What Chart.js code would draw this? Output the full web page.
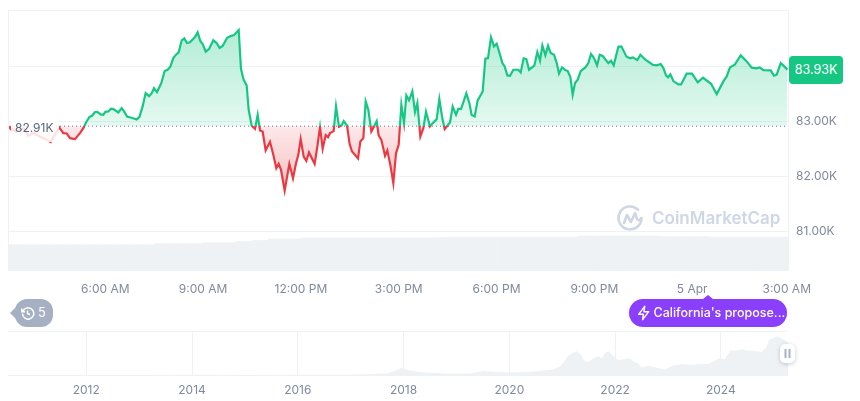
<!DOCTYPE html>
<html lang="en">
<head>
    <meta charset="UTF-8">
    <title>Bitcoin price chart</title>
    <script src="https://cdn.jsdelivr.net/npm/chart.js"></script>
    <style>
        body { margin: 0; background: #fff; font-family: Inter, sans-serif; }
        #page { position: relative; width: 860px; height: 401px; overflow: hidden; }
        canvas { position: absolute; left: 0; }
        #page > div { position: absolute; box-sizing: border-box; }
        #openLabel { left: 11px; top: 114px; width: 48px; height: 28px; line-height: 28px; padding-left: 4px; font-size: 12px; color: #58667e; background: rgba(255,255,255,0.84); }
        #lastLabel { left: 789px; top: 56px; width: 54px; height: 28px; line-height: 28px; text-align: center; font-size: 12.5px; color: #fff; background: #16c784; border-radius: 4px; }
        #history { left: 15px; top: 299px; width: 38px; height: 28px; line-height: 28px; padding-left: 23px; font-size: 12.5px; color: #fff; background: #a6b0c3; border-radius: 12px; }
        #history:before { content: ""; position: absolute; left: -5px; top: 8px; border: 6px solid transparent; border-left: 0; border-right: 6px solid #a6b0c3; }
        #history svg { position: absolute; left: 5px; top: 7px; }
        #news { left: 629px; top: 299px; width: 158px; height: 28px; line-height: 28px; padding-left: 24.5px; font-size: 12.5px; font-weight: 500; color: #fff; background: #8a3ffc; border-radius: 14px; white-space: nowrap; }
        #news:before { content: ""; position: absolute; left: 74px; top: -4px; border: 5px solid transparent; border-top: 0; border-bottom: 4px solid #8a3ffc; }
        #news svg { position: absolute; left: 7px; top: 6px; }
        #brand { left: 617px; top: 204px; width: 160px; height: 28px; line-height: 28px; padding-left: 35px; font-size: 17px; font-weight: 600; color: #cfd6e4; }
        #brand svg { position: absolute; left: 0; top: 0; }
        #handle { left: 780px; top: 344px; width: 15px; height: 19px; background: #fff; border-radius: 5px; box-shadow: 0 1px 4px rgba(88,102,126,0.35); }
        #handle svg { position: absolute; left: 4px; top: 5px; }
    </style>
</head>
<body>
<div id="page">
    <canvas id="mainChart" width="860" height="300" style="top:0"></canvas>
    <canvas id="navChart" width="860" height="76" style="top:325px"></canvas>

    <div id="openLabel">82.91K</div>
    <div id="lastLabel">83.93K</div>
    <div id="history">
        <svg width="15" height="15" viewBox="0 0 24 24" fill="none" stroke="#fff" stroke-width="2.4"><path d="M4 12a9 9 0 1 0 3-6.7L3 9"/><path d="M3 4v5h5"/><path d="M12 7v5l4 2"/></svg>
        5
    </div>
    <div id="news">
        <svg width="16" height="16" viewBox="0 0 24 24" fill="none" stroke="#fff" stroke-width="2.2" stroke-linejoin="round"><path d="M13 2 4 14h7l-1 8 9-12h-7z"/></svg>
        California's propose...
    </div>
    <div id="brand">
        <svg width="27" height="28" viewBox="0 0 27 28" fill="none" stroke="#cfd6e4" stroke-width="2.6" stroke-linecap="round" stroke-linejoin="round"><path d="M24.5 14a11.5 11.5 0 1 1-3.4-8.2"/><path d="M7 19l3-8 4 7 4-9 2 6c1 2 3 1 4.500-1"/></svg>
        CoinMarketCap
    </div>
    <div id="handle">
        <svg width="7" height="9"><rect x="0.5" y="0" width="2" height="9" fill="#a6b0c3"/><rect x="4.500" y="0" width="2" height="9" fill="#a6b0c3"/></svg>
    </div>
</div>

<script>
    // price line, hours counted from midnight 4 Apr
    var priceHours = [3.055,3.096,3.28,3.485,3.638,3.791,4.098,4.323,4.456,4.589,4.712,4.814,4.916,5.07,5.223,5.325,5.407,5.509,5.591,5.683,5.755,5.857,5.939,6,6.092,6.174,6.245,6.399,6.501,6.573,6.675,6.808,6.961,7.043,7.145,7.237,7.339,7.421,7.493,7.585,7.718,7.82,7.912,7.994,8.086,8.168,8.25,8.342,8.423,8.505,8.597,8.751,8.832,8.914,8.986,9.078,9.18,9.313,9.415,9.507,9.599,9.732,9.824,9.947,10.09,10.162,10.243,10.335,10.397,10.489,10.591,10.673,10.744,10.826,10.918,11.051,11.153,11.245,11.317,11.389,11.501,11.644,11.757,11.849,11.92,11.992,12.084,12.166,12.247,12.421,12.503,12.585,12.667,12.759,12.83,12.892,13.004,13.076,13.168,13.25,13.311,13.413,13.495,13.567,13.751,13.822,13.914,13.986,14.067,14.159,14.241,14.323,14.384,14.466,14.579,14.65,14.742,14.834,14.916,14.998,15.08,15.162,15.233,15.315,15.417,15.499,15.571,15.663,15.755,15.836,15.959,16.041,16.164,16.245,16.327,16.409,16.491,16.572,16.654,16.757,16.828,16.91,17.074,17.166,17.237,17.329,17.421,17.575,17.656,17.738,17.83,17.922,18.004,18.106,18.178,18.249,18.331,18.413,18.515,18.669,18.74,18.832,18.914,18.996,19.159,19.251,19.333,19.405,19.497,19.579,19.66,19.763,19.845,19.916,20.008,20.11,20.182,20.264,20.335,20.407,20.489,20.581,20.724,20.816,20.898,20.99,21.082,21.164,21.256,21.429,21.511,21.593,21.736,21.828,21.982,22.094,22.176,22.319,22.411,22.564,22.789,22.912,23.035,23.117,23.198,23.26,23.331,23.423,23.577,23.659,23.832,23.996,24.17,24.333,24.579,24.753,24.957,25.059,25.162,25.305,25.489,25.673,25.826,25.979,26.071,26.184,26.409,26.511,26.593,26.716,26.797,26.92];
    var priceValues = [82.917,82.857,82.814,82.875,82.736,82.784,82.693,82.621,82.754,82.887,82.784,82.778,82.693,82.675,82.784,82.875,82.978,83.074,83.099,83.165,83.171,83.123,83.117,83.171,83.177,83.226,83.22,83.159,83.238,83.177,83.08,83.062,83.032,83.074,83.268,83.51,83.455,83.504,83.601,83.528,83.691,83.909,83.933,83.988,84.145,84.206,84.248,84.466,84.502,84.417,84.43,84.526,84.611,84.454,84.399,84.26,84.309,84.466,84.417,84.327,84.363,84.508,84.538,84.563,84.653,83.946,83.752,83.649,83.207,82.917,82.863,83.117,82.832,82.814,82.469,82.627,82.391,82.149,82.227,82.118,81.743,82.227,81.967,82.239,82.391,82.675,82.36,82.282,82.433,82.227,82.542,82.893,82.5,82.748,82.711,82.784,82.82,83.268,82.899,82.929,83.002,82.923,82.584,82.451,82.324,82.633,82.693,83.359,83.207,82.814,82.905,83.002,82.742,82.663,82.373,82.469,82.209,81.876,82.421,82.572,83.298,82.965,83.468,83.377,83.54,83.165,83.328,82.723,82.875,83.171,82.905,82.965,83.038,83.401,83.086,82.857,82.917,82.978,83.268,83.117,83.226,83.22,83.504,83.328,83.111,83.086,83.377,83.54,84.133,84.145,84.52,84.357,84.405,84.206,84.054,83.994,83.831,83.825,83.933,83.933,83.885,84.139,84.127,83.933,84.006,84.254,84.097,84.375,84.194,84.369,84.236,84.206,84.054,83.861,83.976,83.927,83.909,83.8,83.48,83.691,83.752,83.909,83.976,84.054,84.218,84.145,84.012,84.206,84.182,84.054,84.097,84.012,84.351,84.357,84.175,84.139,84.157,84.109,84.206,84.115,84.024,84.012,84.036,83.964,83.831,83.794,83.849,83.728,83.667,83.667,83.861,83.861,83.704,83.788,83.679,83.492,83.722,83.812,83.976,84.024,84.194,84.085,83.97,83.958,83.976,83.927,83.921,83.825,83.843,84.054,84.012,83.933];

    var openPrice = 82.91;
    var baseHours = [3.015, 26.97];
    var baseValues = [openPrice, openPrice];

    // volume, read per half hour
    var volumeHours = [3.25,3.75,4.25,4.75,5.25,5.75,6.25,6.75,7.25,7.75,8.25,8.75,9.25,9.75,10.25,10.75,11.25,11.75,12.25,12.75,13.25,13.75,14.25,14.75,15.25,15.75,16.25,16.75,17.25,17.75,18.25,18.75,19.25,19.75,20.25,20.75,21.25,21.75,22.25,22.75,23.25,23.75,24.25,24.75,25.25,25.75,26.25,26.75];
    var volumeValues = [10.1,10.1,10.1,10.1,10.1,10.1,10.1,10.1,10.1,10.5,10.5,10.5,10.9,10.9,11.3,11.7,12.3,12.3,12.6,12.6,12.6,12.6,12.6,12.6,12.6,12.6,12.8,13,13,13,13,13,13,13,13,13.4,13.4,13.4,13.4,13.4,13.2,13.2,13.2,13,13,13,13,13];

    var xTickHours = [6,9,12,15,18,21,24,26.9];
    var xTickLabels = ['6:00 AM','9:00 AM','12:00 PM','3:00 PM','6:00 PM','9:00 PM','5 Apr','3:00 AM'];
    var yTickValues = [81,82,83,84];
    var yTickLabels = ['81.00K','82.00K','83.00K',''];

    // all-time navigator
    var navYears = [2010.52,2012,2013,2013.9,2014.3,2015,2016,2016.9,2017.4,2017.7,2017.96,2018.1,2018.3,2018.5,2018.88,2019.26,2019.5,2020,2020.4,2020.83,2020.96,2021.02,2021.11,2021.2,2021.28,2021.35,2021.41,2021.49,2021.58,2021.68,2021.75,2021.81,2021.89,2021.96,2022.06,2022.15,2022.28,2022.36,2022.44,2022.5,2022.63,2022.75,2022.94,2023.09,2023.26,2023.45,2023.6,2023.76,2023.88,2023.97,2024.07,2024.19,2024.26,2024.4,2024.51,2024.64,2024.77,2024.85,2024.91,2024.98,2025.06,2025.15,2025.27];
    var navPrices = [0,0,0.1,0.9,0.5,0.3,0.4,0.9,2.5,4,19,13,8,6,3.6,4,11,7,9,15,23,34,52,61,65,57,41,35,45,52,45,61,65,52,41,43,45,36,32,21,25,21,16,25,30,28,31,30,39,45,43,68,66,70,66,66,63,73,97,100,106,100,88];
    var navTickYears = [2012,2014,2016,2018,2020,2022,2024];

    function pairs(xs, ys) {
        return xs.map(function (x, i) { return { x: x, y: ys[i] }; });
    }

    var GRID = '#eff2f5';
    var LABEL = '#808a9d';
    var tickFont = { family: 'Inter', size: 12 };

    // top, left and right edge of the plot
    var framePlugin = {
        id: 'frame',
        afterDatasetsDraw: function (chart) {
            var a = chart.chartArea, ctx = chart.ctx;
            ctx.save();
            ctx.strokeStyle = GRID;
            ctx.lineWidth = 1;
            ctx.beginPath();
            ctx.moveTo(a.left + 0.5, a.bottom);
            ctx.lineTo(a.left + 0.5, a.top + 0.5);
            ctx.lineTo(a.right - 0.5, a.top + 0.5);
            ctx.lineTo(a.right - 0.5, a.bottom);
            ctx.stroke();
            ctx.restore();
        }
    };

    var mainChart = new Chart(document.getElementById('mainChart'), {
        type: 'line',
        data: {
            datasets: [
                { type: 'line', data: pairs(priceHours, priceValues), yAxisID: 'y', borderWidth: 2.2, pointRadius: 0, tension: 0, order: 1, fill: false },
                { type: 'line', data: pairs(baseHours, baseValues), yAxisID: 'y', borderWidth: 1, borderColor: '#69738a', borderDash: [1, 3], pointRadius: 0, order: 0, fill: false },
                { type: 'bar', data: pairs(volumeHours, volumeValues), yAxisID: 'vol', backgroundColor: GRID, barPercentage: 1, categoryPercentage: 1, order: 2 }
            ]
        },
        options: {
            responsive: false,
            animation: false,
            devicePixelRatio: 1,
            layout: { padding: { left: 8, top: 10 } },
            plugins: { legend: { display: false }, tooltip: { enabled: false } },
            scales: {
                x: {
                    type: 'linear', min: 3.015, max: 26.97, offset: false,
                    grid: { display: false }, border: { display: false },
                    afterBuildTicks: function (axis) { axis.ticks = xTickHours.map(function (v) { return { value: v }; }); },
                    afterFit: function (axis) { axis.height = 29; },
                    ticks: { autoSkip: false, maxRotation: 0, color: LABEL, font: tickFont, padding: 3, callback: function (v, i) { return xTickLabels[i]; } }
                },
                y: {
                    position: 'right', min: 80.285, max: 85.016,
                    grid: { color: GRID, drawTicks: false }, border: { display: false },
                    afterBuildTicks: function (axis) { axis.ticks = yTickValues.map(function (v) { return { value: v }; }); },
                    afterFit: function (axis) { axis.width = 71; axis.paddingTop = 0; axis.paddingBottom = 0; },
                    ticks: { color: LABEL, font: tickFont, padding: 7, callback: function (v, i) { return yTickLabels[i]; } }
                },
                vol: { display: false, min: 0, max: 100 }
            }
        },
        plugins: [framePlugin]
    });

    // colours switch at the opening price, so the gradients need the y scale
    var yScale = mainChart.scales.y;
    var ctx = mainChart.ctx;
    var baseY = yScale.getPixelForValue(openPrice);
    var area = mainChart.chartArea;
    var split = (baseY - area.top) / (area.bottom - area.top);

    var lineColor = ctx.createLinearGradient(0, area.top, 0, area.bottom);
    lineColor.addColorStop(0, '#16c784');
    lineColor.addColorStop(split, '#16c784');
    lineColor.addColorStop(split, '#ea3943');
    lineColor.addColorStop(1, '#ea3943');

    var fillAbove = ctx.createLinearGradient(0, yScale.getPixelForValue(84.65), 0, baseY);
    fillAbove.addColorStop(0, 'rgba(22,199,132,0.33)');
    fillAbove.addColorStop(1, 'rgba(22,199,132,0.11)');

    var fillBelow = ctx.createLinearGradient(0, baseY, 0, yScale.getPixelForValue(81.74));
    fillBelow.addColorStop(0, 'rgba(234,57,67,0.11)');
    fillBelow.addColorStop(1, 'rgba(234,57,67,0.33)');

    mainChart.data.datasets[0].borderColor = lineColor;
    mainChart.data.datasets[0].fill = { target: { value: openPrice }, above: fillAbove, below: fillBelow };
    mainChart.update('none');

    new Chart(document.getElementById('navChart'), {
        type: 'line',
        data: {
            datasets: [
                { data: pairs(navYears, navPrices), borderWidth: 0, pointRadius: 0, tension: 0, fill: 'origin', backgroundColor: GRID }
            ]
        },
        options: {
            responsive: false,
            animation: false,
            devicePixelRatio: 1,
            layout: { padding: { left: 8, right: 72, top: 6 } },
            plugins: { legend: { display: false }, tooltip: { enabled: false } },
            scales: {
                x: {
                    type: 'linear', min: 2010.52, max: 2025.27,
                    grid: { color: GRID, drawTicks: false }, border: { display: false },
                    afterBuildTicks: function (axis) { axis.ticks = navTickYears.map(function (v) { return { value: v }; }); },
                    afterFit: function (axis) { axis.height = 26; },
                    ticks: { autoSkip: false, maxRotation: 0, color: LABEL, font: tickFont, padding: 8, callback: function (v) { return String(v); } }
                },
                y: {
                    min: 0, max: 120,
                    grid: { color: GRID, drawTicks: false }, border: { display: false },
                    afterBuildTicks: function (axis) { axis.ticks = [{ value: 0 }, { value: 120 }]; },
                    afterFit: function (axis) { axis.width = 0; axis.paddingTop = 0; axis.paddingBottom = 0; },
                    ticks: { display: false }
                }
            }
        }
    });
</script>
</body>
</html>
